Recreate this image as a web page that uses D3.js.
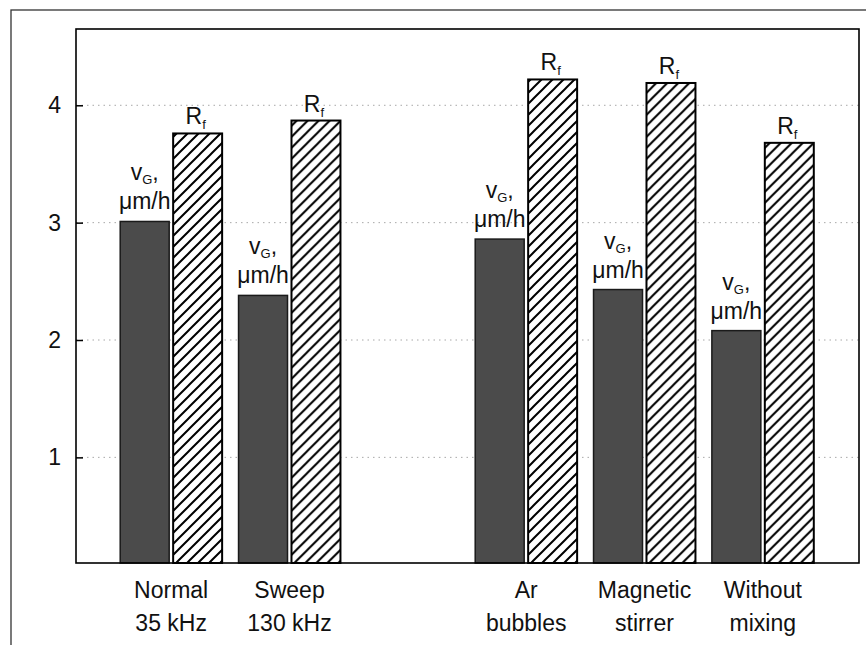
<!DOCTYPE html>
<html>
<head>
<meta charset="utf-8">
<script src="https://cdn.jsdelivr.net/npm/d3@7"></script>
<style>
  html, body { margin: 0; padding: 0; background: #fff; }
  svg { display: block; }
  text { font-family: Arial, "Liberation Sans", sans-serif; fill: #111; }
</style>
</head>
<body>
<svg id="chart" width="866" height="645"></svg>
<script>
// Mixing / ultrasound regimes (an empty slot separates the two sets)
const categories = ["Normal", "Sweep", "gap", "Ar", "Magnetic", "Without"];
const categoryLines = {
  "Normal":   ["Normal", "35 kHz"],
  "Sweep":    ["Sweep", "130 kHz"],
  "Ar":       ["Ar", "bubbles"],
  "Magnetic": ["Magnetic", "stirrer"],
  "Without":  ["Without", "mixing"]
};
const shown = ["Normal", "Sweep", "Ar", "Magnetic", "Without"];
// growth rate v_G, µm/h
const vG = [3.01, 2.38, 2.86, 2.43, 2.08];
// roughness factor R_f
const Rf = [3.76, 3.87, 4.22, 4.19, 3.68];
const yTicks = [1, 2, 3, 4];
const series = ["vG", "Rf"];

const FONT = "Arial, 'Liberation Sans', sans-serif";
const FS = 23;

const svg = d3.select("#chart");
const plot = { left: 76, right: 859, top: 29, bottom: 563 };

// outer frame
svg.append("rect")
  .attr("x", 11).attr("y", 10).attr("width", 900).attr("height", 700)
  .attr("fill", "none").attr("stroke", "#333").attr("stroke-width", 1.3);

const y = d3.scaleLinear().domain([0.1, 4.65]).range([plot.bottom, plot.top]);
const x0 = d3.scaleBand().domain(categories).range([112, 822]).padding(0);
const x1 = d3.scaleBand().domain(series).range([0, x0.bandwidth()])
  .paddingInner(0.075).paddingOuter(0.155);

// hatch pattern
const defs = svg.append("defs");
const pat = defs.append("pattern")
  .attr("id", "hatch").attr("patternUnits", "userSpaceOnUse")
  .attr("width", 11).attr("height", 11);
pat.append("rect").attr("width", 11).attr("height", 11).attr("fill", "#fff");
pat.append("path")
  .attr("d", "M-2,13 L13,-2 M-2,2 L2,-2 M9,13 L13,9")
  .attr("stroke", "#000").attr("stroke-width", 2);

// dotted gridlines
svg.append("g").selectAll("line").data(yTicks).join("line")
  .attr("x1", plot.left).attr("x2", plot.right)
  .attr("y1", d => y(d)).attr("y2", d => y(d))
  .attr("stroke", "#a8a8a8").attr("stroke-width", 1)
  .attr("stroke-dasharray", "1.5,4");

const rows = shown.map((c, i) => ({ cat: c, vG: vG[i], Rf: Rf[i] }));

const groups = svg.append("g").selectAll("g").data(rows).join("g")
  .attr("transform", d => `translate(${x0(d.cat)},0)`);

// v_G bars (solid dark)
groups.append("rect")
  .attr("x", x1("vG")).attr("width", x1.bandwidth())
  .attr("y", d => y(d.vG)).attr("height", d => plot.bottom - y(d.vG))
  .attr("fill", "#4b4b4b").attr("stroke", "#1a1a1a").attr("stroke-width", 1.5);

// R_f bars (hatched)
groups.append("rect")
  .attr("x", x1("Rf")).attr("width", x1.bandwidth())
  .attr("y", d => y(d.Rf)).attr("height", d => plot.bottom - y(d.Rf))
  .attr("fill", "url(#hatch)").attr("stroke", "#000").attr("stroke-width", 2);

// labels over v_G bars
const vLab = groups.append("g")
  .attr("transform", d => `translate(${x1("vG") + x1.bandwidth() / 2},${y(d.vG)})`);
const t1 = vLab.append("text").attr("text-anchor", "middle").attr("y", -41)
  .attr("font-size", FS);
t1.append("tspan").text("v");
t1.append("tspan").attr("font-size", 13).attr("dy", 4).text("G");
t1.append("tspan").attr("dy", -4).text(",");
vLab.append("text").attr("text-anchor", "middle").attr("y", -12)
  .attr("font-size", FS).text("\u03BCm/h");

// labels over R_f bars
const rLab = groups.append("text")
  .attr("text-anchor", "middle").attr("font-size", FS)
  .attr("x", x1("Rf") + x1.bandwidth() / 2 - 2)
  .attr("y", d => y(d.Rf) - 9);
rLab.append("tspan").text("R");
rLab.append("tspan").attr("font-size", 13).attr("dy", 5).text("f");

// y axis with inward ticks
const yAxis = svg.append("g")
  .attr("transform", `translate(${plot.left},0)`)
  .call(d3.axisLeft(y).tickValues(yTicks).tickFormat(d3.format("d"))
    .tickSizeInner(-7).tickSizeOuter(0).tickPadding(15));
yAxis.select(".domain").remove();
yAxis.selectAll(".tick line").attr("stroke", "#000").attr("stroke-width", 1.5);
yAxis.selectAll(".tick text")
  .attr("font-size", FS).attr("font-family", FONT).attr("fill", "#111");

// x axis with two-line category labels
const xAxis = svg.append("g")
  .attr("transform", `translate(0,${plot.bottom})`)
  .call(d3.axisBottom(x0).tickValues(shown).tickSize(0).tickPadding(0));
xAxis.select(".domain").remove();
xAxis.selectAll(".tick text").each(function (d) {
  const t = d3.select(this).text(null)
    .attr("font-size", FS).attr("font-family", FONT)
    .attr("fill", "#111").attr("dy", null).attr("y", 0);
  categoryLines[d].forEach((line, k) => {
    t.append("tspan").attr("x", 0).attr("y", 35 + k * 33).text(line);
  });
});

// plot frame
svg.append("rect")
  .attr("x", plot.left).attr("y", plot.top)
  .attr("width", plot.right - plot.left).attr("height", plot.bottom - plot.top)
  .attr("fill", "none").attr("stroke", "#000").attr("stroke-width", 1.6);
</script>
</body>
</html>
